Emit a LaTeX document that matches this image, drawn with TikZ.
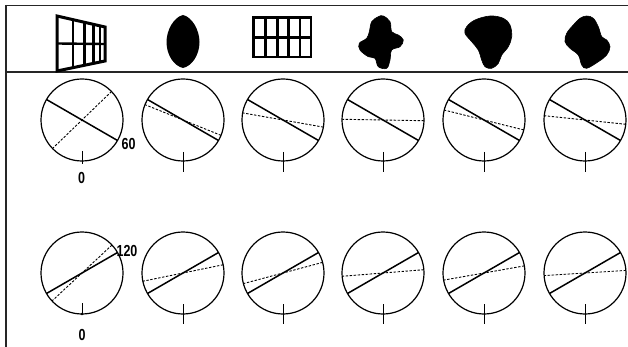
\documentclass[tikz,border=0pt]{standalone}
\usepackage{fontspec}
\setmainfont{Liberation Sans}
\usetikzlibrary{calc}
\begin{document}
\begin{tikzpicture}[x=1pt,y=-1pt,
  frame/.style={line width=1.3pt,black!85},
  gridl/.style={line width=2.4pt,line join=miter},
  circ/.style={line width=1.2pt},
  solidl/.style={line width=1.5pt},
  dashl/.style={line width=0.9pt,dash pattern=on 2.4pt off 1.6pt},
  tickl/.style={line width=0.9pt},
  blob/.style={fill=black,draw=black,line width=0.6pt},
  lab/.style={font=\fontsize{16}{16}\selectfont\bfseries,inner sep=0pt,xscale=.78}]
\useasboundingbox (0,0) rectangle (628,347);
\fill[white] (0,0) rectangle (628,347);
% frame
\draw[frame] (5,5.5) coordinate (ftl) -- (628,5.5) coordinate (ftr);
\draw[frame] (5,72) coordinate (fml) -- (628,72) coordinate (fmr);
\draw[frame] (6,5) coordinate (fvt) -- (6,347) coordinate (fvb);
% shape 1: perspective grid
\draw[gridl,line width=3pt] (57,16) -- (105,27) -- (105,61) -- (57,71) -- cycle;
\draw[gridl] (57,43.5) -- (105,44);
\foreach \xx in {72.7,84.3,93.3,100}{
  \pgfmathsetmacro\tt{(\xx-57)/48}
  \pgfmathsetmacro\ytop{16+11*\tt}
  \pgfmathsetmacro\ybot{71-10*\tt}
  \draw[gridl] (\xx,\ytop) -- (\xx,\ybot);
}
% shape 2: lens
\fill (183,15) .. controls (192,17) and (199.5,30) .. (199.5,42)
      .. controls (199.5,55) and (192,66) .. (183,68)
      .. controls (174,66) and (166.5,55) .. (166.5,42)
      .. controls (166.5,30) and (174,17) .. (183,15);
% shape 3: grid
\draw[gridl,line width=2.8pt] (253.5,17.5) rectangle (311,57);
\draw[gridl] (253.5,37.5) -- (311,37.5);
\foreach \xx in {265.5,277.5,288.5,300}{
  \draw[gridl] (\xx,17.5) -- (\xx,57);
}
% shape 4
\draw[blob] plot[smooth cycle,tension=0.6] coordinates {
 (383.3,16) (390,21.7) (391.7,31.7) (398.3,35) (403.3,40) (400,46.7)
 (391.7,50) (390,60) (386.7,68.3) (378.3,66.7) (375,58.3) (368.3,56.7)
 (360,50) (359.3,43.3) (366.7,38.3) (369.3,31.7) (371.7,21.7) (378.3,16.7)};
% shape 5
\draw[blob] plot[smooth cycle,tension=0.6] coordinates {
 (490,16) (503.3,18.3) (510,25) (511.7,36.7) (508.3,46.7) (501.7,55)
 (498.3,63.3) (491.7,68.3) (485,66.7) (481.7,60) (478.3,50) (471.7,41.7)
 (465,33.3) (466.7,26.7) (475,20)};
% shape 6
\draw[blob] plot[smooth cycle,tension=0.6] coordinates {
 (586.7,16) (593.3,18.3) (598.3,26.7) (601.7,36.7) (606.7,40) (610,46.7)
 (606.7,55) (598.3,61.7) (586.7,68.3) (581.7,65) (578.3,55) (570,48.3)
 (565,41.7) (566.7,33.3) (573.3,25) (580,18.3)};
% row 1 circles
\foreach \cx/\da [count=\i] in {82/-44,183/22,283/10,383/1,484/14,585/6}{
  \coordinate (a\i) at (\cx,120);
  \draw[circ] (a\i) circle (41);
  \draw[solidl,shift={(a\i)}] (30:41) -- (210:41);
  \draw[dashl,shift={(a\i)}] (\da:41) -- (\da+180:41);
  \ifnum\i=1
    \draw[tickl] (\cx,151) -- (\cx,164);
  \else
    \draw[tickl] (\cx,152) -- (\cx,172);
  \fi
}
% row 2 circles
\foreach \cx/\da [count=\i] in {82/-43,183/-11.6,283/-15,383/-4.6,484/-10,585/-3.6}{
  \coordinate (b\i) at (\cx,273);
  \draw[circ] (b\i) circle (41);
  \draw[solidl,shift={(b\i)}] (-30:41) -- (150:41);
  \draw[dashl,shift={(b\i)}] (\da:41) -- (\da+180:41);
  \ifnum\i=1
    \draw[tickl] (\cx,303) -- (\cx,314);
    \fill (\cx,314) circle (1.3);
  \else
    \draw[tickl] (\cx,304) -- (\cx,324);
  \fi
}
% labels
\node[lab] (l60) at (128.5,143.5) {60};
\node[lab] (l0a) at (81.5,177.5) {0};
\node[lab] (l120) at (127,251) {120};
\node[lab] (l0b) at (82,334.5) {0};
\end{tikzpicture}
\end{document}
